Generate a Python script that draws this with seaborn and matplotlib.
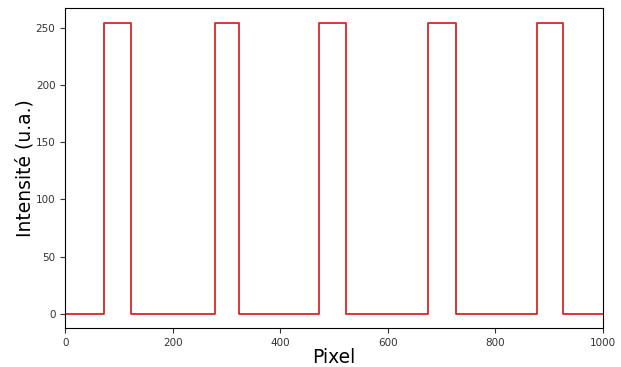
import numpy as np
import pandas as pd
import matplotlib
matplotlib.use("Agg")
import matplotlib.pyplot as plt
import seaborn as sns

# step signal breakpoints (pixel) and intensity levels after each breakpoint
pixel_edges = [0, 73, 123, 279, 323, 471, 523, 675, 726, 878, 925, 1000]
intensity = [0, 255, 0, 255, 0, 255, 0, 255, 0, 255, 0, 0]

df = pd.DataFrame({"Pixel": pixel_edges, "Intensite": intensity})

fig, ax = plt.subplots(figsize=(6.21, 3.67), dpi=100)
fig.subplots_adjust(left=0.105, right=0.971, top=0.978, bottom=0.106)

sns.lineplot(data=df, x="Pixel", y="Intensite", ax=ax, color="#d62728",
             drawstyle="steps-post", linewidth=1.3)

ax.set_xlim(0, 1000)
ax.set_ylim(-12.75, 267.75)
ax.set_xticks([0, 200, 400, 600, 800, 1000])
ax.set_yticks([0, 50, 100, 150, 200, 250])
ax.tick_params(labelsize=7.5, colors="#333333")
ax.set_xlabel("Pixel", fontsize=13.5, labelpad=0)
ax.set_ylabel("Intensité (u.a.)", fontsize=13.5, labelpad=1)

fig.savefig("out.png", dpi=100)
